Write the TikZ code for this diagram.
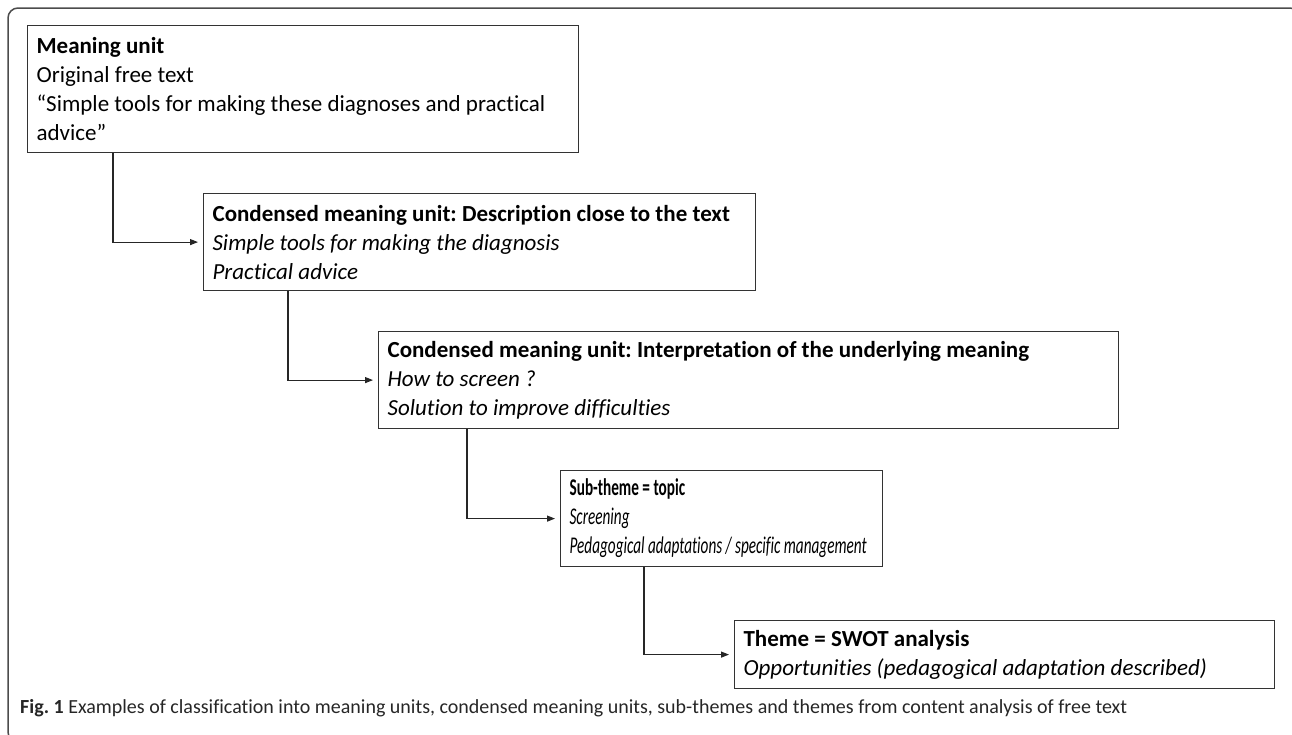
\documentclass[tikz,border=0pt]{standalone}
\usepackage{fontspec}
\setmainfont{Carlito}[Ligatures=NoCommon]
\newfontfamily\narrowfont{Carlito}[Ligatures=NoCommon,FakeStretch=0.635]
\frenchspacing
\usetikzlibrary{arrows.meta}
\begin{document}
\begin{tikzpicture}[x=1pt,y=-1pt,
  box/.style={draw=black!80,line width=1.2pt,anchor=north west,align=flush left,inner xsep=9pt,inner ysep=0pt,font=\fontsize{23}{29}\selectfont},
  link/.style={black!85,line width=1.1pt,-{Triangle[length=8pt,width=6pt]},shorten >=5pt}]
\useasboundingbox(0,0)rectangle(1292,734);
\draw[black!70,line width=1.5pt,rounded corners=10pt](8,8)rectangle(1300,742);
\node[box,text width=533pt,minimum height=127pt](unit)at(27,25){\textbf{Meaning unit}\\Original free text\\“Simple tools for making these diagnoses and practical\\advice”};
\node[box,text width=534pt,minimum height=97pt](close)at(203,193){\textbf{Condensed meaning unit: Description close to the text}\\\textit{Simple tools for making the diagnosis}\\\textit{Practical advice}};
\node[box,text width=722pt,minimum height=97pt](under)at(378,331){\textbf{Condensed meaning unit: Interpretation of the underlying meaning}\\\textit{How to screen ?}\\\textit{Solution to improve difficulties}};
\node[box,text width=304pt,minimum height=96pt,font=\fontsize{24}{29}\narrowfont](topic)at(560,470){\textbf{Sub-theme = topic}\\\textit{Screening}\\\textit{Pedagogical adaptations / specific management}};
\node[box,text width=522pt,minimum height=68pt](swot)at(734,620){\textbf{Theme = SWOT analysis}\\\textit{Opportunities (pedagogical adaptation described)}};
\draw[link]([xshift=86pt]unit.south west)|-(close.west);
\draw[link]([xshift=85pt]close.south west)|-(under.west);
\draw[link]([xshift=89pt]under.south west)|-(topic.west);
\draw[link]([xshift=84pt]topic.south west)|-(swot.west);
\node[anchor=base west,inner sep=0pt,text=black!85,font=\fontsize{20}{24}\selectfont](cap)at(20,713){\textbf{Fig. 1} Examples of classification into meaning units, condensed meaning units, sub-themes and themes from content analysis of free text};
\end{tikzpicture}
\end{document}
